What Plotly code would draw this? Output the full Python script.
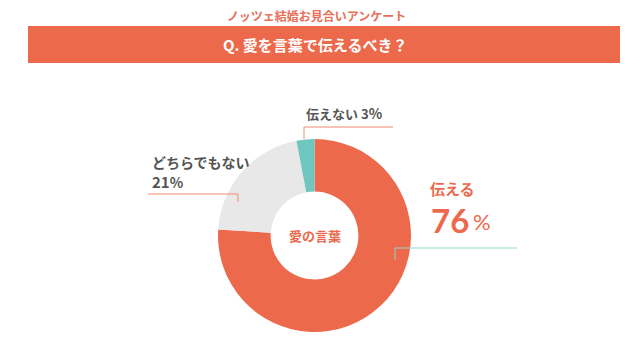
import plotly.graph_objects as go

W, H = 640, 349

labels = ["伝える", "どちらでもない", "伝えない"]
values = [76, 21, 3]
colors = ["#EC6A4B", "#E8E8E8", "#6EC6BF"]

title_top = "ノッツェ結婚お見合いアンケート"
question = "Q. 愛を言葉で伝えるべき？"
center_text = "愛の言葉"

ORANGE = "#EC6A4B"
GRAY_TXT = "#555555"
SALMON = "#F08B72"
TEAL_LINE = "#92D5CF"
JP = "Noto Sans CJK JP"

def px(x):
    return x / W

def py(y):
    return 1 - y / H

cx, cy, r = 314.5, 235.5, 96.5

fig = go.Figure(go.Pie(
    labels=labels, values=values, sort=False, direction="clockwise", rotation=0,
    hole=0.455, marker=dict(colors=colors, line=dict(width=0)),
    textinfo="none", hoverinfo="label+percent", showlegend=False,
    domain=dict(x=[px(cx - r), px(cx + r)], y=[py(cy + r), py(cy - r)]),
))

shapes = [
    dict(type="rect", xref="paper", yref="paper", x0=px(28), x1=px(620), y0=py(63), y1=py(26),
         fillcolor=ORANGE, line=dict(width=0), layer="below"),
    # 伝えない leader
    dict(type="line", xref="paper", yref="paper", x0=px(304), x1=px(393), y0=py(127), y1=py(127),
         line=dict(color=SALMON, width=1)),
    dict(type="line", xref="paper", yref="paper", x0=px(304), x1=px(304), y0=py(127), y1=py(139),
         line=dict(color=SALMON, width=1)),
    # どちらでもない leader
    dict(type="line", xref="paper", yref="paper", x0=px(148), x1=px(238), y0=py(194), y1=py(194),
         line=dict(color=SALMON, width=1)),
    dict(type="line", xref="paper", yref="paper", x0=px(238), x1=px(238), y0=py(194), y1=py(202),
         line=dict(color=SALMON, width=1)),
    # 伝える leader
    dict(type="line", xref="paper", yref="paper", x0=px(395), x1=px(517), y0=py(248), y1=py(248),
         line=dict(color=TEAL_LINE, width=1)),
    dict(type="line", xref="paper", yref="paper", x0=px(395), x1=px(395), y0=py(248), y1=py(260),
         line=dict(color=TEAL_LINE, width=1)),
]

def ann(text, x, y, size, color, xanchor="center", bold=True, family=JP):
    t = f"<b>{text}</b>" if bold else text
    return dict(text=t, x=px(x), y=py(y), xref="paper", yref="paper", showarrow=False,
                xanchor=xanchor, yanchor="middle", font=dict(family=family, size=size, color=color))

annotations = [
    ann(title_top, 316, 15, 12, "#E8705A"),
    ann(question, 315, 45, 15, "white"),
    ann(center_text, 315, 235, 13, ORANGE),
    ann("伝えない 3<span style='font-size:14px'>%</span>", 304, 113, 13, GRAY_TXT, xanchor="left"),
    ann("どちらでもない", 150, 162, 14, GRAY_TXT, xanchor="left"),
    ann("21<span style='font-size:14px'>%</span>", 150, 181, 15, GRAY_TXT, xanchor="left"),
    ann("伝える", 428, 188, 15, ORANGE, xanchor="left"),
    ann("76", 429, 220, 33, ORANGE, xanchor="left", family="Lato"),
    ann("%", 471, 222, 22, ORANGE, xanchor="left", bold=False, family="Lato"),
]

fig.update_layout(
    width=W, height=H, margin=dict(l=0, r=0, t=0, b=0),
    paper_bgcolor="white", plot_bgcolor="white",
    shapes=shapes, annotations=annotations,
)

fig.write_html("out.html", config=dict(displayModeBar=False))
